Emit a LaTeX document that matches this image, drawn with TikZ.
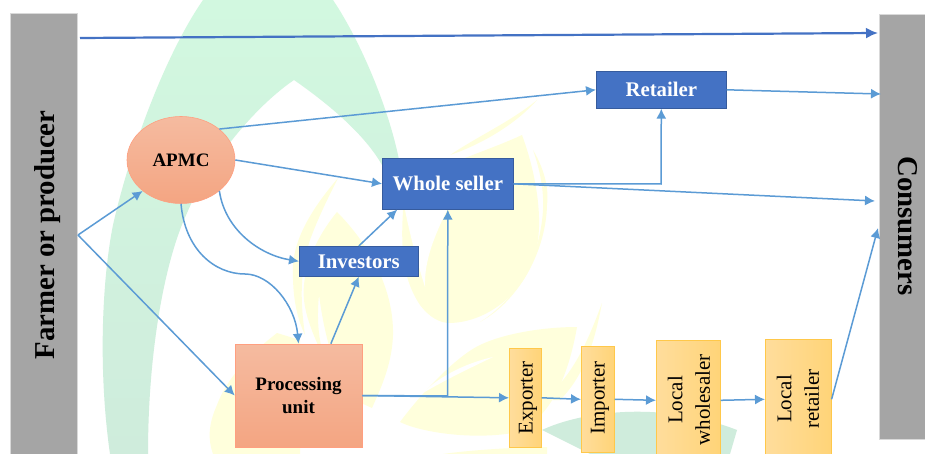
\documentclass[tikz,border=0pt]{standalone}
\usepackage{fontspec}
\setmainfont{Liberation Serif}
\usetikzlibrary{arrows.meta,shapes.geometric}
\definecolor{barg}{HTML}{A5A5A5}
\definecolor{bluebox}{HTML}{4472C4}
\definecolor{linkb}{HTML}{5B9BD5}
\definecolor{wmgT}{HTML}{D2F8E0}
\definecolor{wmgB}{HTML}{CFECDC}
\definecolor{wmy}{HTML}{FFFFDC}
\definecolor{salmonT}{HTML}{F5BBA0}
\definecolor{salmonB}{HTML}{F4A582}
\definecolor{goldL}{HTML}{FFDD9C}
\definecolor{goldR}{HTML}{FFD478}
\definecolor{goldD}{HTML}{FFC84A}
\tikzset{
 bar/.style={draw=white!85!black,line width=.5pt,fill=barg,inner sep=0pt,anchor=north west},
 bluenode/.style={draw=bluebox!80!black,line width=.6pt,fill=bluebox,text=white,font=\bfseries\fontsize{20.8}{23}\selectfont,inner sep=0pt,anchor=north west},
 salmon/.style={draw=orange!50!red!50,line width=.6pt,top color=salmonT,bottom color=salmonB,font=\bfseries\fontsize{19}{23}\selectfont,align=center,inner sep=0pt},
 goldnode/.style={draw=goldD,line width=.6pt,left color=goldL,right color=goldR,inner sep=0pt,anchor=north west},
 goldtext/.style={rotate=90,font=\fontsize{21}{27.5}\selectfont,align=center},
 link/.style={draw=linkb,line width=1.5pt,-{Latex[length=10pt,width=10pt]}},
 mainlink/.style={draw=bluebox,line width=2.2pt,-{Latex[length=12pt,width=11pt]}}
}
\begin{document}
\begin{tikzpicture}[x=1pt,y=-1pt]
\useasboundingbox (0,0) rectangle (925,454);
\fill[white] (0,0) rectangle (925,454);
% watermark
\begin{scope}
\clip (0,0) rectangle (925,454);
% green arch
\shade[top color=wmgT,bottom color=wmgB] (203,0) .. controls (165,55) and (130,150) .. (113,225) .. controls (102,280) and (98,370) .. (110,454) -- (148,454) .. controls (148,350) and (165,260) .. (187,213) .. controls (205,170) and (250,110) .. (294,80) .. controls (330,105) and (365,135) .. (382,165) -- (400,165) .. controls (390,110) and (360,40) .. (333,0) -- cycle;
\fill[wmgB] (542,430) .. controls (580,412) and (660,400) .. (737,430) -- (730,454) -- (590,454) -- cycle;
% yellow leaves
\fill[wmy] (338,178) .. controls (315,205) and (295,235) .. (293,265) .. controls (292,300) and (298,320) .. (305,335) .. controls (300,300) and (300,270) .. (310,240) .. controls (318,218) and (328,198) .. (338,178) -- cycle;
\fill[wmy] (337,212) .. controls (365,240) and (394,285) .. (393,335) .. controls (392,365) and (380,390) .. (372,408) -- (350,398) .. controls (335,370) and (325,340) .. (319,295) .. controls (316,325) and (320,345) .. (325,360) .. controls (308,325) and (302,305) .. (304,285) .. controls (306,258) and (322,230) .. (337,212) -- cycle;
% right leaf
\fill[wmy] (522,135) .. controls (490,150) and (440,165) .. (405,185) .. controls (400,240) and (400,275) .. (420,305) .. controls (430,318) and (440,323) .. (450,323) .. controls (490,322) and (525,290) .. (535,255) .. controls (545,220) and (535,170) .. (522,135) -- cycle;
\fill[white] (405,210) .. controls (410,235) and (418,265) .. (425,287) .. controls (424,260) and (435,235) .. (447,210) -- cycle;
\fill[wmy] (533,150) .. controls (545,170) and (549,190) .. (547,205) .. controls (546,250) and (520,300) .. (480,322) .. controls (515,300) and (540,260) .. (543,210) .. controls (544,190) and (540,170) .. (533,150) -- cycle;
\fill[wmy] (537,100) .. controls (510,122) and (480,135) .. (450,155) .. controls (480,145) and (515,125) .. (537,100) -- cycle;
% bottom leaf
\fill[wmy] (577,327) .. controls (545,327) and (505,333) .. (480,345) .. controls (455,357) and (420,395) .. (400,422) .. controls (420,432) and (470,440) .. (513,433) .. controls (540,425) and (565,395) .. (577,327) -- cycle;
\fill[white] (493,357) .. controls (470,362) and (440,375) .. (423,393) .. controls (445,380) and (470,368) .. (493,357) -- cycle;
\fill[wmy] (602,303) .. controls (590,335) and (575,375) .. (543,400) -- (560,400) .. controls (585,375) and (595,340) .. (602,303) -- cycle;
\fill[wmy] (443,454) .. controls (470,450) and (520,447) .. (547,447) -- (547,454) -- cycle;
\fill[wmy] (277,333) .. controls (255,350) and (228,375) .. (217,405) .. controls (208,425) and (208,440) .. (213,454) -- (300,454) -- (300,340) -- cycle;
\end{scope}
% nodes
\node[bar,minimum width=67pt,minimum height=441pt] (farmer) at (10,13) {};
\node[bar,minimum width=46pt,minimum height=425pt] (consumers) at (879,14) {};
\node[rotate=90,font=\bfseries\fontsize{28.8}{30}\selectfont] (farmerT) at (47.5,235) {Farmer or producer};
\node[rotate=-90,font=\bfseries\fontsize{28.8}{30}\selectfont] (consT) at (908,226) {Consumers};
\node[salmon,ellipse,minimum width=108pt,minimum height=87pt] (apmc) at (181,160) {APMC};
\node[bluenode,minimum width=130pt,minimum height=37pt] (retailer) at (596,71) {Retailer};
\node[bluenode,minimum width=131pt,minimum height=51pt] (whole) at (382,158) {Whole seller};
\node[bluenode,minimum width=119pt,minimum height=30pt] (investors) at (299,246) {Investors};
\node[salmon,rectangle,minimum width=127pt,minimum height=103pt] (proc) at (298.5,395.5) {Processing\\unit};
\node[goldnode,minimum width=32pt,minimum height=99pt] (exporter) at (509,348) {};
\node[goldtext] (exporterT) at (528,398) {Exporter};
\node[goldnode,minimum width=33pt,minimum height=106pt] (importer) at (581,346) {};
\node[goldtext] (importerT) at (600,398) {Importer};
\node[goldnode,minimum width=64pt,minimum height=120pt] (localw) at (656,340) {};
\node[goldtext] (localwT) at (689,400) {Local\\wholesaler};
\node[goldnode,minimum width=66pt,minimum height=120pt] (localr) at (765,339) {};
\node[goldtext] (localrT) at (798,399) {Local\\retailer};
% named free ends
\coordinate (fork) at (78,235);
\coordinate (topS) at (80,38);
\coordinate (topE) at (878,33);
\coordinate (retE) at (881,94);
\coordinate (wsE) at (875,201);
\coordinate (lrE) at (878,228);
\coordinate (wsBend) at (661,184);
\coordinate (j1) at (447.5,396);
\coordinate (sag) at (245,274);
% connectors
\draw[mainlink] (topS) -- (topE);
\draw[link] (fork) -- (apmc.south west);
\draw[link] (fork) -- (proc.west);
\draw[link] (apmc.north east) -- (retailer.west);
\draw[link] (retailer.east) -- (retE);
\draw[link] (apmc.east) -- (whole.west);
\draw[link] (whole.east) -- (wsBend) -- (retailer.south);
\draw[link] (whole.east) -- (wsE);
\draw[link] (apmc.south east) .. controls (225,230) and (260,255) .. (investors.west);
\draw[link] (apmc.south) .. controls (185,250) and (215,274) .. (sag) .. controls (270,274) and (295,305) .. (proc.north);
\draw[link] (proc.58.6) -- (investors.south);
\draw[link] (investors.north) -- (whole.207.3);
\draw[link] (proc.east) -- (j1) -- (whole.south);
\draw[link] (proc.east) -- (exporter.west);
\draw[link] (exporter.east) -- (importer.west);
\draw[link] (importer.east) -- (localw.west);
\draw[link] (localw.east) -- (localr.west);
\draw[link] (localr.east) -- (lrE);
\end{tikzpicture}
\end{document}
